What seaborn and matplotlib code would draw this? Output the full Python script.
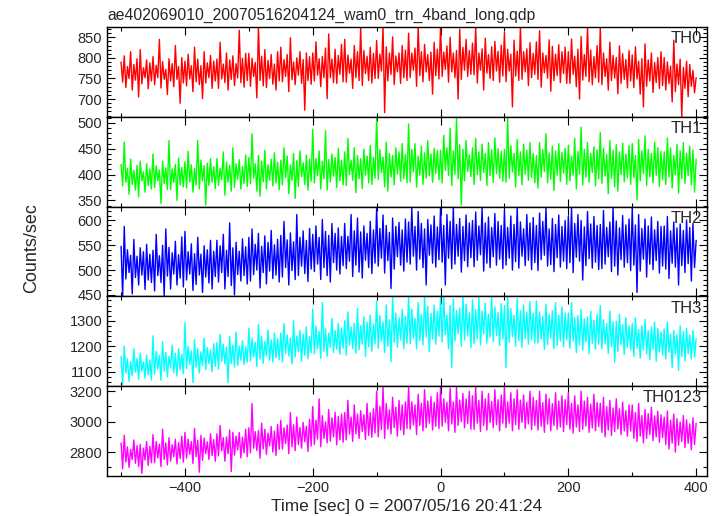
import numpy as np
import pandas as pd
import matplotlib
matplotlib.use("Agg")
import matplotlib.pyplot as plt
from matplotlib.ticker import MultipleLocator
import seaborn as sns

# Light curve bins: start -500 s, 2.5 s steps (0 = 2007/05/16 20:41:24)
T_START = -500
T_STEP = 2.5

th0 = [790, 741, 805, 728, 779, 750, 815, 722, 784, 746, 798, 705, 820, 737, 776, 752, 795, 725, 788, 744,
       803, 735, 782, 752, 845, 727, 791, 748, 772, 711, 798, 744, 786, 730, 830, 748, 779, 690, 801, 739,
       792, 732, 809, 749, 781, 718, 826, 742, 797, 735, 781, 701, 815, 739, 788, 752, 806, 726, 792, 744,
       797, 726, 838, 749, 785, 740, 812, 722, 795, 748, 805, 733, 786, 751, 867, 740, 799, 729, 811, 745,
       811, 731, 799, 755, 789, 703, 876, 745, 804, 732, 820, 728, 794, 750, 808, 736, 785, 722, 815, 744,
       826, 742, 796, 755, 808, 718, 849, 747, 790, 735, 800, 758, 815, 738, 796, 673, 812, 745, 803, 736,
       812, 744, 839, 758, 798, 730, 803, 752, 824, 701, 858, 752, 797, 740, 821, 738, 806, 760, 833, 742,
       845, 741, 807, 763, 797, 726, 830, 752, 815, 745, 872, 733, 818, 762, 804, 745, 826, 739, 811, 750,
       842, 750, 809, 768, 876, 667, 827, 744, 812, 760, 851, 735, 805, 766, 812, 738, 830, 752, 819, 745,
       860, 752, 812, 770, 824, 731, 876, 757, 815, 742, 833, 766, 808, 745, 814, 712, 838, 757, 821, 749,
       876, 755, 814, 772, 829, 741, 850, 766, 812, 752, 818, 700, 870, 748, 826, 770, 845, 755, 818, 760,
       836, 759, 876, 739, 812, 770, 822, 722, 848, 763, 808, 750, 827, 745, 840, 768, 816, 741, 831, 756,
       862, 742, 821, 768, 809, 681, 843, 756, 816, 745, 876, 748, 815, 766, 822, 733, 837, 752, 811, 760,
       839, 748, 866, 729, 812, 764, 806, 751, 844, 719, 828, 745, 809, 757, 832, 740, 815, 762, 826, 738,
       815, 738, 846, 760, 804, 730, 821, 700, 852, 746, 808, 755, 876, 742, 819, 735, 803, 752, 830, 741,
       873, 735, 812, 755, 798, 722, 838, 745, 806, 751, 801, 713, 829, 738, 810, 748, 796, 727, 818, 744,
       807, 728, 827, 749, 792, 712, 798, 681, 834, 731, 795, 744, 812, 716, 789, 740, 801, 726, 815, 733,
       801, 722, 790, 738, 780, 693, 843, 718, 785, 735, 797, 657, 777, 726, 792, 706, 784, 731, 770, 715,
       752]

th1 = [420, 378, 463, 385, 412, 362, 430, 381, 408, 370, 418, 357, 426, 388, 405, 366, 421, 379, 411, 372,
       440, 375, 417, 388, 409, 344, 426, 383, 413, 371, 466, 371, 411, 385, 420, 350, 432, 380, 414, 376,
       425, 374, 445, 386, 419, 366, 412, 380, 466, 372, 428, 388, 417, 341, 422, 379, 431, 385, 415, 373,
       431, 379, 412, 390, 444, 360, 424, 385, 418, 368, 452, 375, 421, 391, 429, 372, 416, 383, 438, 377,
       433, 382, 479, 393, 421, 368, 437, 358, 426, 386, 447, 372, 419, 389, 430, 378, 442, 384, 424, 371,
       428, 380, 452, 394, 436, 363, 419, 389, 441, 354, 427, 377, 446, 396, 423, 381, 438, 370, 430, 387,
       488, 384, 431, 398, 446, 372, 426, 392, 485, 370, 429, 386, 440, 397, 433, 375, 451, 388, 428, 380,
       444, 379, 470, 400, 428, 389, 452, 365, 437, 392, 431, 373, 449, 399, 436, 384, 457, 381, 433, 393,
       511, 390, 448, 404, 434, 376, 463, 368, 441, 395, 437, 380, 452, 401, 444, 387, 460, 392, 439, 384,
       498, 386, 449, 405, 460, 376, 436, 399, 455, 381, 442, 393, 466, 398, 440, 385, 451, 402, 447, 390,
       447, 384, 476, 408, 452, 398, 490, 379, 446, 401, 511, 392, 458, 341, 449, 388, 466, 406, 438, 396,
       452, 381, 470, 400, 444, 389, 459, 404, 441, 379, 462, 398, 448, 385, 471, 402, 450, 393, 445, 387,
       449, 385, 511, 393, 456, 405, 441, 376, 468, 398, 444, 380, 459, 401, 447, 389, 462, 395, 441, 384,
       437, 374, 462, 395, 448, 406, 479, 384, 442, 391, 455, 369, 446, 399, 460, 387, 443, 403, 451, 381,
       457, 388, 436, 399, 470, 372, 445, 401, 492, 380, 449, 395, 462, 385, 441, 404, 454, 378, 448, 392,
       482, 383, 451, 397, 439, 363, 466, 392, 447, 376, 458, 368, 444, 400, 461, 386, 440, 394, 456, 381,
       460, 394, 437, 351, 468, 388, 446, 402, 475, 379, 449, 396, 441, 384, 463, 399, 452, 377, 445, 390,
       444, 381, 471, 395, 452, 374, 437, 400, 458, 364, 446, 392, 462, 383, 441, 398, 455, 380, 448, 366,
       430]

th2 = [548, 447, 588, 482, 541, 495, 530, 452, 562, 485, 528, 470, 545, 490, 537, 461, 552, 480, 532, 475,
       540, 458, 572, 489, 529, 475, 550, 447, 583, 488, 546, 462, 535, 492, 558, 470, 531, 484, 567, 466,
       578, 480, 537, 492, 553, 459, 533, 471, 566, 490, 532, 455, 549, 486, 541, 474, 560, 462, 538, 487,
       560, 476, 549, 495, 572, 462, 540, 487, 595, 469, 545, 450, 556, 491, 538, 478, 563, 489, 547, 472,
       566, 478, 583, 491, 552, 500, 574, 464, 548, 495, 569, 472, 556, 498, 580, 483, 551, 490, 562, 476,
       570, 486, 598, 505, 561, 470, 575, 499, 557, 481, 612, 489, 566, 508, 579, 493, 560, 477, 584, 502,
       572, 497, 589, 512, 566, 481, 602, 505, 578, 489, 570, 476, 594, 515, 574, 500, 585, 492, 568, 509,
       594, 503, 568, 518, 612, 487, 579, 510, 605, 496, 577, 484, 589, 520, 574, 505, 598, 493, 581, 514,
       626, 508, 584, 524, 611, 494, 590, 519, 576, 463, 605, 502, 588, 527, 596, 510, 581, 498, 603, 516,
       597, 512, 626, 528, 588, 500, 618, 522, 594, 505, 583, 470, 602, 530, 591, 514, 609, 506, 587, 521,
       626, 516, 590, 470, 612, 524, 598, 503, 626, 512, 592, 528, 604, 496, 588, 519, 611, 507, 595, 525,
       600, 507, 617, 520, 589, 531, 626, 498, 595, 514, 607, 505, 586, 527, 614, 510, 598, 522, 590, 503,
       621, 510, 586, 524, 609, 500, 592, 517, 626, 504, 597, 528, 583, 509, 612, 520, 595, 501, 606, 515,
       590, 499, 615, 521, 598, 530, 626, 508, 583, 511, 604, 497, 592, 525, 611, 506, 588, 518, 600, 503,
       609, 515, 626, 495, 594, 526, 612, 518, 600, 480, 587, 509, 618, 523, 593, 504, 608, 516, 590, 501,
       592, 503, 620, 512, 586, 527, 597, 497, 626, 508, 599, 490, 585, 521, 610, 506, 591, 515, 603, 499,
       626, 510, 591, 455, 612, 498, 584, 522, 603, 486, 589, 512, 607, 501, 581, 519, 598, 494, 588, 508,
       589, 502, 608, 483, 579, 514, 597, 506, 585, 470, 593, 509, 580, 495, 601, 513, 586, 478, 594, 505,
       560]

th3 = [1160, 1050, 1201, 1095, 1150, 1062, 1140, 1085, 1190, 1098, 1152, 1070, 1172, 1102, 1138, 1075, 1165, 1088, 1146, 1068,
       1241, 1090, 1180, 1110, 1165, 1066, 1218, 1103, 1175, 1080, 1160, 1115, 1205, 1095, 1172, 1083, 1190, 1108, 1168, 1092,
       1293, 1112, 1200, 1128, 1182, 1057, 1226, 1118, 1190, 1095, 1178, 1124, 1232, 1108, 1195, 1132, 1186, 1100, 1210, 1121,
       1215, 1110, 1247, 1142, 1208, 1130, 1196, 1057, 1238, 1132, 1205, 1118, 1256, 1125, 1200, 1145, 1222, 1128, 1198, 1137,
       1270, 1141, 1232, 1158, 1215, 1120, 1286, 1150, 1240, 1133, 1218, 1162, 1264, 1145, 1225, 1138, 1252, 1155, 1230, 1148,
       1252, 1138, 1289, 1172, 1245, 1162, 1232, 1130, 1300, 1158, 1240, 1178, 1262, 1142, 1248, 1165, 1276, 1150, 1238, 1175,
       1346, 1170, 1280, 1190, 1258, 1152, 1372, 1181, 1268, 1160, 1252, 1195, 1310, 1175, 1262, 1188, 1290, 1168, 1272, 1192,
       1300, 1165, 1335, 1205, 1276, 1190, 1290, 1172, 1350, 1186, 1282, 1208, 1316, 1160, 1295, 1198, 1322, 1180, 1288, 1210,
       1378, 1192, 1320, 1220, 1296, 1175, 1362, 1200, 1305, 1139, 1398, 1215, 1330, 1196, 1312, 1225, 1345, 1190, 1318, 1212,
       1395, 1210, 1345, 1232, 1310, 1190, 1372, 1222, 1325, 1205, 1395, 1236, 1356, 1178, 1330, 1228, 1362, 1208, 1338, 1240,
       1390, 1216, 1395, 1245, 1322, 1190, 1360, 1116, 1385, 1220, 1340, 1250, 1350, 1200, 1395, 1225, 1366, 1240, 1332, 1195,
       1382, 1210, 1345, 1230, 1392, 1205, 1338, 1248, 1370, 1212, 1326, 1236, 1395, 1218, 1355, 1242, 1332, 1202, 1368, 1228,
       1360, 1116, 1395, 1215, 1348, 1238, 1322, 1200, 1388, 1222, 1340, 1195, 1362, 1230, 1335, 1208, 1376, 1225, 1330, 1212,
       1378, 1212, 1335, 1228, 1318, 1188, 1366, 1206, 1325, 1232, 1340, 1190, 1372, 1204, 1322, 1220, 1355, 1198, 1330, 1225,
       1330, 1192, 1372, 1220, 1312, 1175, 1320, 1205, 1345, 1185, 1308, 1218, 1315, 1170, 1338, 1212, 1302, 1188, 1326, 1208,
       1360, 1190, 1305, 1210, 1290, 1172, 1338, 1198, 1296, 1138, 1298, 1180, 1326, 1205, 1285, 1168, 1312, 1195, 1280, 1185,
       1290, 1160, 1312, 1192, 1266, 1152, 1280, 1185, 1306, 1170, 1262, 1148, 1275, 1188, 1295, 1140, 1270, 1178, 1256, 1165,
       1268, 1150, 1295, 1176, 1248, 1116, 1262, 1170, 1246, 1105, 1280, 1160, 1258, 1142, 1270, 1172, 1244, 1150, 1262, 1158,
       1230]

th0123 = [2860, 2690, 2911, 2735, 2835, 2700, 2818, 2752, 2880, 2726, 2842, 2705, 2850, 2660, 2826, 2748, 2870, 2712, 2838, 2730,
          2915, 2730, 2870, 2762, 2852, 2705, 2950, 2752, 2860, 2716, 2895, 2740, 2848, 2770, 2885, 2722, 2862, 2758, 2905, 2735,
          2930, 2760, 2885, 2785, 2870, 2725, 2955, 2770, 2878, 2668, 2910, 2745, 2892, 2790, 2868, 2752, 2920, 2778, 2882, 2740,
          2920, 2775, 2975, 2808, 2895, 2740, 2900, 2790, 2945, 2672, 2930, 2780, 2905, 2815, 2928, 2762, 2898, 2795, 2950, 2770,
          2960, 2795, 3119, 2825, 2935, 2810, 2942, 2760, 2990, 2820, 2950, 2785, 2925, 2840, 2968, 2800, 2938, 2778, 2982, 2818,
          3010, 2820, 2960, 2855, 2978, 2790, 3060, 2835, 2980, 2810, 3030, 2850, 2962, 2826, 2995, 2868, 2970, 2805, 3015, 2840,
          3100, 2850, 3010, 2885, 3150, 2835, 3040, 2890, 2998, 2860, 3080, 2872, 3025, 2900, 3062, 2848, 3035, 2880, 3050, 2865,
          3060, 2880, 3140, 2918, 3030, 2870, 3110, 2920, 3050, 2890, 3072, 2935, 3045, 2882, 3120, 2910, 3058, 2898, 3085, 2925,
          3200, 2900, 3100, 2948, 3225, 2890, 3120, 2950, 3078, 2920, 3160, 2960, 3095, 2905, 3140, 2945, 3110, 2915, 3130, 2955,
          3225, 2950, 3130, 2978, 3110, 2915, 3180, 2975, 3120, 2940, 3210, 2960, 3135, 2990, 3165, 2945, 3128, 2970, 3190, 2955,
          3225, 2970, 3150, 2995, 3128, 2940, 3220, 2985, 3130, 2930, 3225, 2975, 3142, 3000, 3185, 2960, 3150, 2988, 3200, 2950,
          3170, 2950, 3225, 2990, 3140, 2935, 3200, 2975, 3150, 2945, 3185, 2995, 3132, 2960, 3210, 2980, 3145, 2940, 3175, 2990,
          3225, 2960, 3130, 2990, 3190, 2940, 3150, 2980, 3210, 2950, 3142, 2995, 3175, 2955, 3128, 2985, 3200, 2948, 3160, 2975,
          3140, 2945, 3200, 2970, 3125, 2930, 3180, 2985, 3150, 2940, 3118, 2975, 3190, 2950, 3135, 2965, 3170, 2935, 3145, 2980,
          3190, 2950, 3120, 2925, 3170, 2965, 3110, 2935, 3200, 2950, 3135, 2972, 3160, 2930, 3115, 2958, 3180, 2940, 3125, 2968,
          3120, 2930, 3160, 2900, 3100, 2945, 3140, 2910, 3090, 2935, 3150, 2952, 3085, 2915, 3128, 2940, 3072, 2905, 3110, 2938,
          3110, 2890, 3060, 2870, 3120, 2905, 3040, 2860, 3080, 2890, 3052, 2915, 3095, 2875, 3038, 2900, 3068, 2865, 3045, 2895,
          3030, 2850, 3070, 2820, 3010, 2860, 3050, 2800, 3020, 2845, 2998, 2870, 3040, 2830, 3012, 2858, 2985, 2815, 3025, 2850,
          2990]

bands = ["TH0", "TH1", "TH2", "TH3", "TH0123"]
series = [th0, th1, th2, th3, th0123]
colors = ["#ff0000", "#00ff00", "#0000ff", "#00ffff", "#ff00ff"]
ylims = [(657, 875), (338, 512), (447, 628), (1043, 1396), (2643, 3233)]
ymajor = [50, 50, 50, 100, 200]
yminor = [10, 10, 10, 20, 100]

sns.set_style("ticks")
plt.rcParams["font.family"] = ["Liberation Sans", "DejaVu Sans"]

fig, axes = plt.subplots(5, 1, figsize=(7.22, 5.16), dpi=100, sharex=True)
fig.subplots_adjust(left=107/722, right=707/722, top=1-27/516, bottom=1-476/516, hspace=0)

for ax, name, vals, col, yl, maj, mnr in zip(axes, bands, series, colors, ylims, ymajor, yminor):
    df = pd.DataFrame({"time": T_START + T_STEP * np.arange(len(vals)), "rate": vals})
    sns.lineplot(data=df, x="time", y="rate", ax=ax, color=col, lw=1.0,
                 estimator=None, sort=False)
    ax.set_xlim(-522, 417)
    ax.set_ylim(*yl)
    ax.set_xlabel("")
    ax.set_ylabel("")
    ax.xaxis.set_major_locator(MultipleLocator(200))
    ax.xaxis.set_minor_locator(MultipleLocator(100))
    ax.yaxis.set_major_locator(MultipleLocator(maj))
    ax.yaxis.set_minor_locator(MultipleLocator(mnr))
    ax.tick_params(which="both", direction="in", top=True, right=True,
                   labelsize=10.5, width=0.8, color="black")
    ax.tick_params(which="major", length=6)
    ax.tick_params(which="minor", length=3)
    for sp in ax.spines.values():
        sp.set_linewidth(1.0)
        sp.set_color("black")
    ax.text(0.992, 0.82, name, transform=ax.transAxes, ha="right",
            va="baseline", fontsize=12)

fig.text(107/722, 1-20/516, "ae402069010_20070516204124_wam0_trn_4band_long.qdp",
         ha="left", va="baseline", fontsize=11.3)
fig.text(32/722, 1-248/516, "Counts/sec", rotation=90, ha="center", va="center", fontsize=13)
fig.text(407/722, 1-507/516, "Time [sec] 0 = 2007/05/16 20:41:24", ha="center",
         va="center", fontsize=12.4)

fig.savefig("out.png", dpi=100)
